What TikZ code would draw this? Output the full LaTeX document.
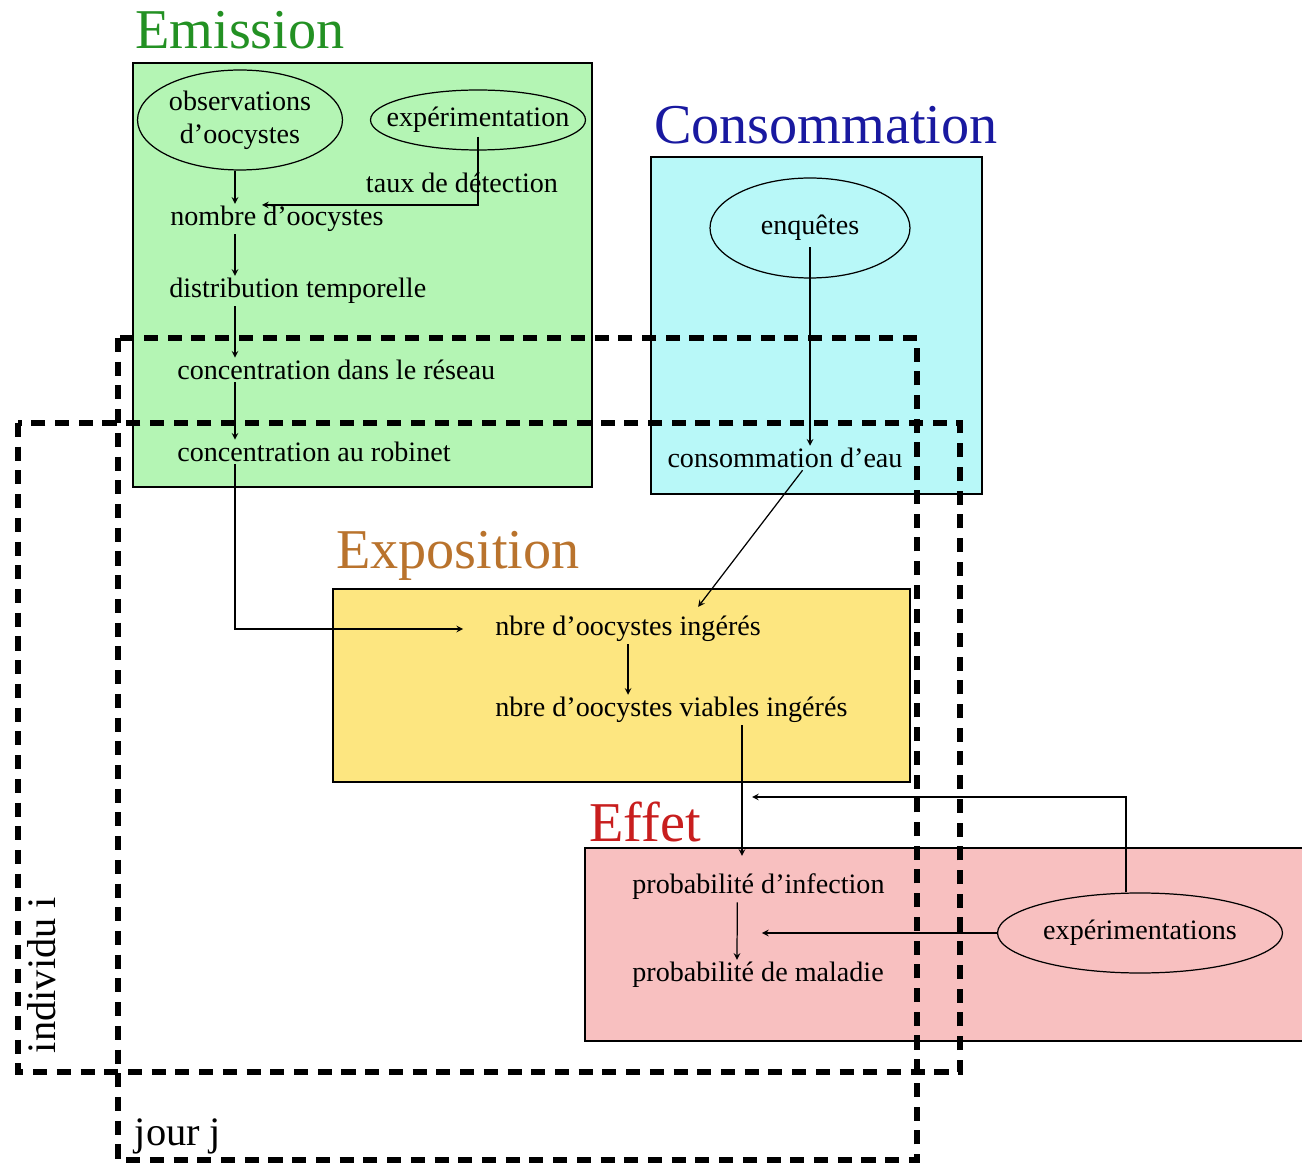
\documentclass[tikz,border=0pt]{standalone}
\usepackage{fontspec}
\setmainfont{Liberation Serif}
\usetikzlibrary{shapes.geometric}

\definecolor{emisfill}{RGB}{180,245,180}
\definecolor{emistext}{RGB}{35,145,35}
\definecolor{consfill}{RGB}{184,248,248}
\definecolor{constext}{RGB}{25,25,160}
\definecolor{expofill}{RGB}{253,230,128}
\definecolor{expotext}{RGB}{185,115,45}
\definecolor{effefill}{RGB}{248,192,192}
\definecolor{effetext}{RGB}{200,30,30}

\begin{document}
\begin{tikzpicture}[x=0.02cm, y=-0.02cm, >=stealth, line width=0.7pt,
  % Stage titles
  titre/.style={font=\fontsize{32}{36}\selectfont, inner sep=0pt},
  % Plain text steps
  etape/.style={font=\fontsize{16}{19}\selectfont, inner sep=1pt},
  % Data sources in ellipses
  source/.style={draw, ellipse, font=\fontsize{16}{19}\selectfont,
                 inner sep=0pt, align=center},
  % Coloured stage areas
  zone/.style={draw, line width=0.7pt},
  % Dashed frames (day, individual)
  cadre/.style={line width=3.5pt, dash pattern=on 8pt off 5.5pt}
]
  \useasboundingbox (0,0) rectangle (1302,1165);

  % Stage areas
  \draw[zone, fill=emisfill] (133,63) rectangle (592,487);
  \draw[zone, fill=consfill] (651,157) rectangle (982,494);
  \draw[zone, fill=expofill] (333,589) rectangle (910,782);
  \draw[zone, fill=effefill] (585,848) rectangle (1310,1041);

  % Dashed frames
  \draw[cadre] (118,338) rectangle (917,1160);
  \draw[cadre] (18,423) rectangle (960,1072);
  \node[etape, font=\fontsize{23}{26}\selectfont, rotate=90] (individu) at (42,975) {individu i};
  \node[etape, font=\fontsize{23}{26}\selectfont] (jour) at (178,1136) {jour j};

  % Titles
  \node[titre, text=emistext] (emission) at (240,30) {Emission};
  \node[titre, text=constext] (consommation) at (826,125) {Consommation};
  \node[titre, text=expotext] (exposition) at (458,556) {Exposition};
  \node[titre, text=effetext] (effet) at (645,822) {Effet};

  % Emission
  \node[source, minimum width=4.1cm, minimum height=2cm] (observ) at (240,120)
       {observations\\d'oocystes};
  \node[source, inner xsep=-9pt, minimum width=4.3cm, minimum height=1.2cm] (experim) at (478,120) {expérimentation};
  \node[etape] (taux) at (462,183) {taux de détection};
  \node[etape, anchor=west] (nombre) at (168,219) {nombre d'oocystes};
  \node[etape, anchor=west] (distrib) at (167,291) {distribution temporelle};
  \node[etape, anchor=west] (reseau) at (175,370) {concentration dans le réseau};
  \node[etape, anchor=west] (robinet) at (175,452) {concentration au robinet};

  % Consommation
  \node[source, minimum width=4cm, minimum height=2cm] (enquetes) at (810,228) {enquêtes};
  \node[etape] (conso) at (785,458) {consommation d'eau};

  % Exposition
  \node[etape, anchor=west] (ingeres) at (493,629) {nbre d'oocystes ingérés};
  \node[etape, anchor=west] (viables) at (493,710) {nbre d'oocystes viables ingérés};

  % Effet
  \node[etape, anchor=west] (infection) at (630,887) {probabilité d'infection};
  \node[etape, anchor=west] (maladie) at (630,975) {probabilité de maladie};
  \node[source, minimum width=5.7cm, minimum height=1.6cm] (experims) at (1140,933) {expérimentations};

  % Column of the emission chain
  \coordinate (col) at (235,0);
  \coordinate (tauxend) at (262,205);
  \coordinate (effcol) at (742,0);
  \coordinate (retour) at (752,797);

  % Emission chain
  \draw[->] (observ.south -| col) -- (nombre.north -| col);
  \draw[->] ([yshift=8pt]experim.south) |- (tauxend);
  \draw[->] (nombre.south -| col) -- (distrib.north -| col);
  \draw[->] (distrib.south -| col) -- (reseau.north -| col);
  \draw[->] (reseau.south -| col) -- (robinet.north -| col);
  \draw[->] (robinet.south -| col) |- ([xshift=-17pt]ingeres.west);

  % Consommation chain
  \draw[->] ([yshift=-11pt]enquetes.center) -- (enquetes.center |- conso.north);
  \draw[->] ([xshift=10pt]conso.south) -- ([xshift=-37pt,yshift=4pt]ingeres.north east);

  % Exposition to effet
  \draw[->] (ingeres.south) -- (ingeres.south |- viables.north);
  \draw[->, shorten >=9pt] (viables.south -| effcol) -- (infection.north -| effcol);
  \draw[->] ([xshift=-12pt]infection.south) -- ([xshift=-12pt]maladie.north);
  \draw[->, shorten >=2pt] (experims.west) -- (experims.west -| infection.south);
  \draw[->] ([xshift=-8pt]experims.north) |- (retour);

\end{tikzpicture}
\end{document}
